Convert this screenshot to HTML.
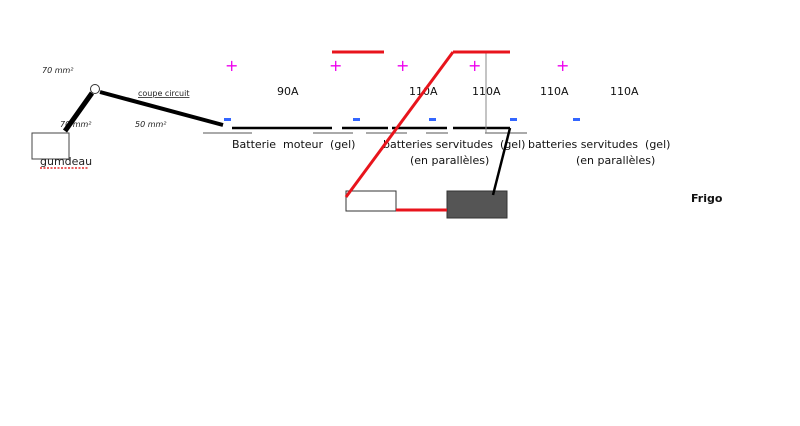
<!DOCTYPE html>
<html><head><meta charset="utf-8"><style>
body{margin:0;background:#fff;width:800px;height:421px;overflow:hidden}
svg text{font-family:"DejaVu Sans","Liberation Sans",sans-serif;white-space:pre}
</style></head><body>
<svg width="800" height="421" viewBox="0 0 800 421">
<g font-size="8" fill="#222">
<text x="42" y="73" font-style="italic">70 mm²</text>
<text x="60" y="127" font-style="italic">70 mm²</text>
<text x="135" y="127" font-style="italic">50 mm²</text>
<text x="138" y="96" text-decoration="underline">coupe circuit</text>
</g>
<rect x="32" y="133" width="37" height="26" fill="#fff" stroke="#444" stroke-width="1"/>
<text x="40" y="165" font-size="11" fill="#222">gumdeau</text>
<path d="M40 168 h48" stroke="#d00" stroke-width="1.2" stroke-dasharray="2,1.5"/>
<line x1="65" y1="131" x2="92" y2="93" stroke="#000" stroke-width="5"/>
<line x1="100" y1="92" x2="223" y2="125" stroke="#000" stroke-width="4"/>
<circle cx="95" cy="89" r="4.5" fill="#fff" stroke="#333" stroke-width="1"/>
<g fill="#e0e" font-size="16"><text x="225" y="71">+</text><text x="329" y="71">+</text><text x="396" y="71">+</text><text x="468" y="71">+</text><text x="556" y="71">+</text></g>
<g fill="#36f"><rect x="224" y="118" width="7" height="3"/><rect x="353" y="118" width="7" height="3"/><rect x="429" y="118" width="7" height="3"/><rect x="510" y="118" width="7" height="3"/><rect x="573" y="118" width="7" height="3"/></g>
<g font-size="11" fill="#111"><text x="277" y="95">90A</text><text x="409" y="95">110A</text><text x="472" y="95">110A</text><text x="540" y="95">110A</text><text x="610" y="95">110A</text></g>
<g stroke="#000" stroke-width="2.5"><line x1="232" y1="128" x2="332" y2="128"/><line x1="342" y1="128" x2="388" y2="128"/><line x1="392" y1="128" x2="447" y2="128"/><line x1="453" y1="128" x2="510" y2="128"/></g>
<g stroke="#555" stroke-width="1"><line x1="203" y1="133" x2="252" y2="133"/><line x1="313" y1="133" x2="353" y2="133"/><line x1="366" y1="133" x2="407" y2="133"/><line x1="426" y1="133" x2="448" y2="133"/><line x1="485" y1="133" x2="527" y2="133"/></g>
<line x1="486" y1="52" x2="486" y2="133" stroke="#888" stroke-width="1"/>
<g font-size="11" fill="#111"><text x="232" y="148">Batterie  moteur  (gel)</text><text x="383" y="148">batteries servitudes  (gel)</text><text x="410" y="164">(en parallèles)</text><text x="528" y="148">batteries servitudes  (gel)</text><text x="576" y="164">(en parallèles)</text></g>
<text x="691" y="202" font-size="11" font-weight="bold" fill="#111">Frigo</text>
<rect x="346" y="191" width="50" height="20" fill="#fff" stroke="#333" stroke-width="1"/>
<rect x="447" y="191" width="60" height="27" fill="#555" stroke="#333" stroke-width="1"/>
<g stroke="#e8141c" stroke-width="3"><line x1="332" y1="52" x2="384" y2="52"/><line x1="453" y1="52" x2="510" y2="52"/><line x1="346" y1="197" x2="453" y2="52"/><line x1="396" y1="210" x2="447" y2="210"/></g>
<line x1="510" y1="128" x2="493" y2="195" stroke="#000" stroke-width="2.5"/>
</svg>
</body></html>
